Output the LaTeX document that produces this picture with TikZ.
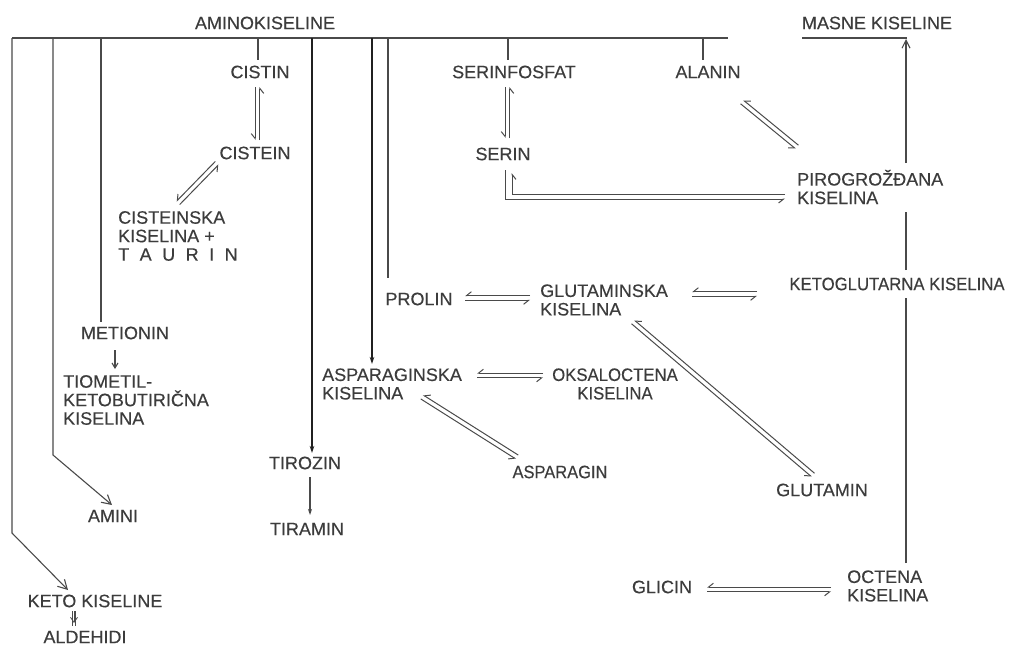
\documentclass[tikz,border=0pt]{standalone}
\usepackage{fontspec}
\setmainfont{Liberation Sans}
\newfontfamily\lblfont{Liberation Sans}[FakeBold=0.35]
\usetikzlibrary{arrows.meta,calc}
\definecolor{txt}{HTML}{3C3C3C}
\definecolor{lncol}{HTML}{4A4A4A}
\definecolor{dark}{HTML}{202020}
\newcommand\eqpair[2]{%
  \draw[eqline] ($(#1)!2.3pt!-90:(#2)$) -- ($(#2)!2.3pt!90:(#1)$);
  \draw[eqline] ($(#2)!2.3pt!-90:(#1)$) -- ($(#1)!2.3pt!90:(#2)$);}
\newcommand\nrw[1]{\scalebox{0.93}[1]{#1}}
\begin{document}
\begin{tikzpicture}[x=1pt,y=-1pt,
  lbl/.style={inner sep=0pt, text=txt, font=\lblfont\fontsize{18}{18.5}\selectfont},
  conn/.style={draw=lncol, line width=1.1pt},
  darkconn/.style={draw=dark, line width=1.1pt},
  eqline/.style={draw=lncol, line width=1pt, -{Straight Barb[harpoon,swap,length=5pt,width=8pt]}},
  openarr/.style={-{Straight Barb[length=9pt,width=10pt]}},
  solidarr/.style={-{Stealth[length=7pt,width=4.5pt]}},
  smallarr/.style={-{Straight Barb[length=5pt,width=6pt]}}]
\useasboundingbox (0,0) rectangle (1011,648);

% ---------- nodes ----------
\node[lbl] (amino) at (265,23) {AMINOKISELINE};
\node[lbl] (masne) at (877,23) {MASNE KISELINE};
\node[lbl] (cistin) at (260,72) {CISTIN};
\node[lbl] (serinf) at (514,72) {SERINFOSFAT};
\node[lbl] (alanin) at (708,72) {ALANIN};
\node[lbl] (cistein) at (255,153) {CISTEIN};
\node[lbl] (serin) at (503,154) {SERIN};
\node[lbl,anchor=west,align=left] (piro) at (797,187) {PIROGROŽĐANA\\KISELINA};
\node[lbl,anchor=west,align=left] (cistk) at (118,236) {CISTEINSKA\\KISELINA +\\T\hspace{10.5pt}A\hspace{10.5pt}U\hspace{10.5pt}R\hspace{10.5pt}I\hspace{10.5pt}N};
\node[lbl] (prolin) at (419,299) {PROLIN};
\node[lbl,anchor=west,align=left] (glut) at (540,300) {GLUTAMINSKA\\KISELINA};
\node[lbl] (ketog) at (897,284) {\nrw{KETOGLUTARNA KISELINA}};
\node[lbl] (metionin) at (125,333) {METIONIN};
\node[lbl,anchor=west,align=left] (tiomet) at (63,400) {TIOMETIL-\\KETOBUTIRIČNA\\KISELINA};
\node[lbl,anchor=west,align=left] (aspk) at (322,384) {ASPARAGINSKA\\KISELINA};
\node[lbl,align=center] (oksal) at (615,384) {\nrw{OKSALOCTENA}\\\nrw{KISELINA}};
\node[lbl] (tirozin) at (305,463) {TIROZIN};
\node[lbl] (asparagin) at (560,472) {\scalebox{0.915}[1]{ASPARAGIN}};
\node[lbl] (glutamin) at (822,490) {GLUTAMIN};
\node[lbl] (amini) at (113,516) {AMINI};
\node[lbl] (tiramin) at (307,529) {TIRAMIN};
\node[lbl] (keto) at (95,601) {KETO KISELINE};
\node[lbl] (aldehidi) at (85,637) {ALDEHIDI};
\node[lbl] (glicin) at (662,587) {GLICIN};
\node[lbl,anchor=west,align=left] (octena) at (847,586) {OCTENA\\KISELINA};

% ---------- top bar and branches ----------
\coordinate (barL) at (12,38);
\coordinate (barR) at (728,38);
\draw[conn] (barL) -- (barR);
\coordinate (bAm) at (53,38);
\coordinate (bMe) at (101,38);
\coordinate (bCi) at (258,38);
\coordinate (bTi) at (312,38);
\coordinate (bAs) at (372,38);
\coordinate (bPr) at (388,38);
\coordinate (bSe) at (508,38);
\coordinate (bAl) at (703,38);
\coordinate (kneeK) at (12,533);
\coordinate (kneeA) at (53,455);

\draw[conn,openarr] (barL) -- (kneeK) -- ($(keto)+(-27,-11)$);
\draw[conn,openarr] (bAm) -- (kneeA) -- ($(amini)+(-1,-11)$);
\draw[conn] (bMe) -- ($(metionin)+(-24,-11)$);
\draw[conn] (bCi) -- ($(cistin)+(-2,-12)$);
\draw[darkconn,solidarr] (bTi) -- ($(tirozin)+(7,-10)$);
\draw[darkconn,solidarr] (bAs) -- ($(aspk.west)+(50,-20)$);
\draw[conn] (bPr) -- ($(prolin)+(-31,-21)$);
\draw[conn] (bSe) -- ($(serinf)+(-6,-12)$);
\draw[conn] (bAl) -- ($(alanin)+(-5,-12)$);

% ---------- masne kiseline line ----------
\coordinate (mL) at ($(masne)+(-75,15)$);
\coordinate (mR) at ($(masne)+(30,15)$);
\draw[conn] (mL) -- (mR);
\draw[conn] ($(octena.west)+(59,-23)$) -- ($(ketog)+(9,14)$);
\draw[conn] ($(ketog)+(9,-14)$) -- ($(piro.west)+(109,25)$);
\draw[conn,-{Straight Barb[length=8pt,width=8pt]}] ($(piro.west)+(109,-24)$) -- ($(masne)+(29,16)$);

% ---------- single arrows ----------
\draw[conn,smallarr] ($(metionin)+(-10,17)$) -- ($(tiomet.west)+(52,-31)$);
\draw[conn,-{Stealth[length=6pt,width=4pt]}] ($(tirozin)+(5,14)$) -- ($(tiramin)+(3,-14)$);
\coordinate (ka) at ($(keto)+(-21,10)$);
\coordinate (ad) at ($(aldehidi)+(-11,-11)$);
\draw[conn,line width=0.8pt] ([xshift=-1.5pt]ka) -- ([xshift=-1.5pt]ad);
\draw[conn,line width=0.8pt] ([xshift=1.5pt]ka) -- ([xshift=1.5pt]ad);
\draw[conn,line width=0.8pt,-{Straight Barb[length=5pt,width=7pt]}] (ka) -- ([yshift=3pt]ad);

% ---------- equilibria ----------
\coordinate (e1a) at ($(cistin)+(-2.5,15)$);   \coordinate (e1b) at ($(cistein)+(2.5,-13)$);
\eqpair{e1a}{e1b}
\coordinate (e2a) at ($(cistein)+(-38,10)$);   \coordinate (e2b) at ($(cistk.west)+(60,-33)$);
\eqpair{e2a}{e2b}
\coordinate (e3a) at ($(serinf)+(-6.5,15)$);   \coordinate (e3b) at ($(serin)+(4.5,-16)$);
\eqpair{e3a}{e3b}
\coordinate (e4a) at ($(alanin)+(34,30)$);     \coordinate (e4b) at ($(piro.west)+(0,-40)$);
\eqpair{e4a}{e4b}
\coordinate (e6a) at ($(prolin)+(46,-1)$);     \coordinate (e6b) at ($(glut.west)+(-10,-2)$);
\eqpair{e6a}{e6b}
\coordinate (e7a) at ($(glut.west)+(152,-6)$); \coordinate (e7b) at ($(ketog)+(-140,10)$);
\eqpair{e7a}{e7b}
\coordinate (e8a) at ($(aspk.west)+(155,-8.5)$); \coordinate (e8b) at ($(oksal)+(-72,-8.5)$);
\eqpair{e8a}{e8b}
\coordinate (e9a) at ($(aspk.west)+(100,13)$); \coordinate (e9b) at ($(asparagin)+(-43,-15)$);
\eqpair{e9a}{e9b}
\coordinate (e10a) at ($(glut.west)+(93,22)$); \coordinate (e10b) at ($(glutamin)+(-9,-15)$);
\eqpair{e10a}{e10b}
\coordinate (e11a) at ($(glicin)+(45,2.5)$);   \coordinate (e11b) at ($(octena.west)+(-16,3.5)$);
\eqpair{e11a}{e11b}

% serin <-> pirogrozdana (L-shaped pair)
\coordinate (s1) at ($(serin)+(2,16)$);
\coordinate (s1k) at ($(serin)+(2,45)$);
\coordinate (p1) at ($(piro.west)+(-12,12)$);
\coordinate (p2) at ($(piro.west)+(-12,7)$);
\coordinate (s2k) at ($(serin)+(9,40)$);
\coordinate (s2) at ($(serin)+(9,19)$);
\draw[eqline] (s1) -- (s1k) -- (s1k -| p1);
\draw[eqline] (p2) -- (s2k) -- (s2);
\end{tikzpicture}
\end{document}
